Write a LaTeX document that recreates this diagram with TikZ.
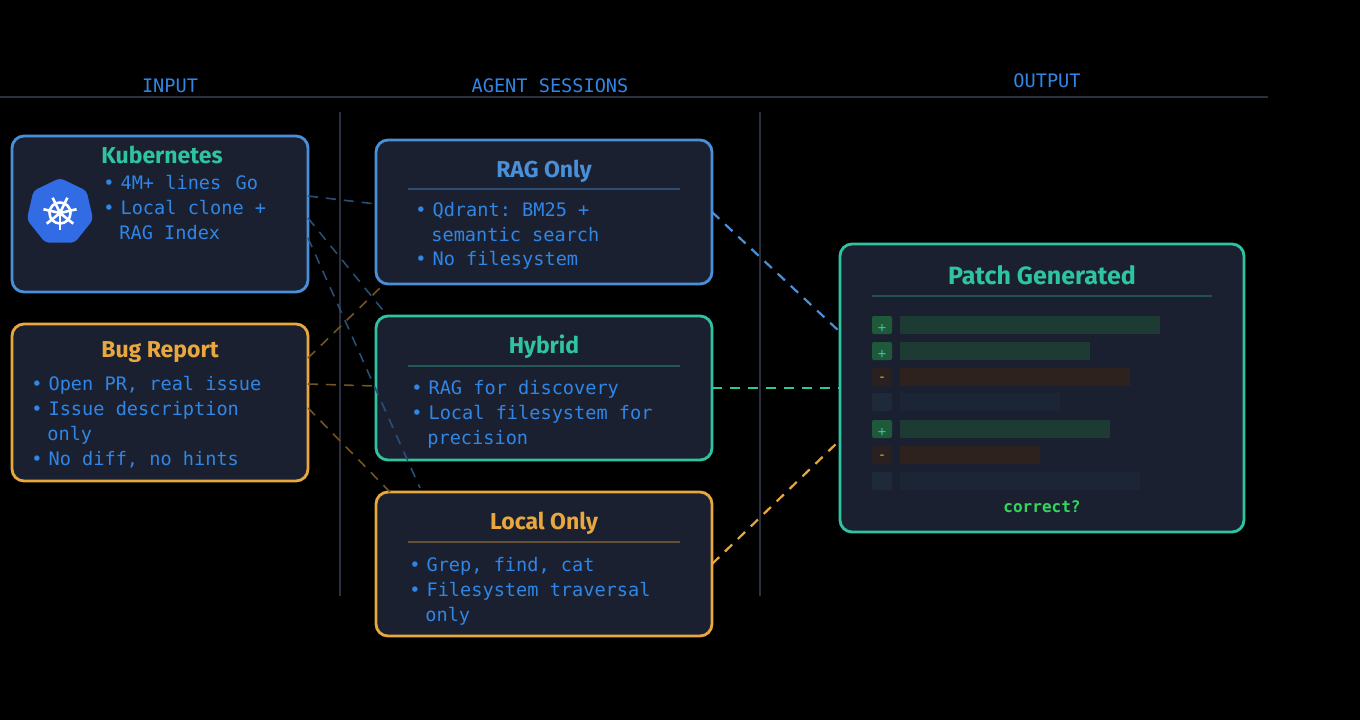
\documentclass[tikz,border=0pt]{standalone}
\usepackage{fontspec}
\setmainfont{Fira Sans}
\setmonofont{DejaVu Sans Mono}
\usetikzlibrary{shapes.geometric}
\definecolor{bg}{HTML}{000000}
\definecolor{panel}{HTML}{1B2030}
\definecolor{cblue}{HTML}{4A90D9}
\definecolor{cteal}{HTML}{2EC4A0}
\definecolor{corange}{HTML}{E8A83E}
\definecolor{ctext}{HTML}{2F86E6}
\definecolor{grid}{HTML}{2A3040}
\definecolor{kblue}{HTML}{326CE5}
\definecolor{gsq}{HTML}{1E5A3A}\definecolor{gbar}{HTML}{1D3B32}
\definecolor{osq}{HTML}{2A2020}\definecolor{obar}{HTML}{2D221E}
\definecolor{nsq}{HTML}{1E2A3A}\definecolor{nbar}{HTML}{1C2535}
\begin{document}
\begin{tikzpicture}[x=0.5pt,y=-0.5pt,
 box/.style={draw=#1,line width=1.4pt,fill=panel,rounded corners=6pt},
 ttl/.style={font=\bfseries\fontsize{11.5}{13}\selectfont,text=#1},
 bl/.style={font=\ttfamily\fontsize{9.3}{12.5}\selectfont,text=ctext,anchor=west,inner sep=0},
 hdr/.style={font=\ttfamily\fontsize{9.3}{11}\selectfont,text=ctext},
 dv/.style={line width=0.7pt,draw=#1},
 cn/.style={dashed,line width=0.8pt,draw=#1,dash pattern=on 5pt off 4pt}]
\fill[bg] (0,0) rectangle (1360,720);
\useasboundingbox (0,0) rectangle (1360,720);
% headers and grid
\draw[grid,line width=0.8pt] (0,97) -- (1268,97);
\draw[grid,line width=0.8pt] (340,112) -- (340,596);
\draw[grid,line width=0.8pt] (760,112) -- (760,596);
\node[hdr] (h1) at (170,86) {INPUT};
\node[hdr] (h2) at (550,86) {AGENT SESSIONS};
\node[hdr] (h3) at (1047,81) {OUTPUT};
% boxes
\draw[box=cblue] (12,136) rectangle (308,292);
\draw[box=corange] (12,324) rectangle (308,481);
\draw[box=cblue] (376,140) rectangle (712,284);
\draw[box=cteal] (376,316) rectangle (712,460);
\draw[box=corange] (376,492) rectangle (712,636);
\draw[box=cteal] (840,244) rectangle (1244,532);
% Kubernetes
\node[ttl=cteal] (kt) at (162,155) {Kubernetes};
\node[regular polygon,regular polygon sides=7,fill=kblue,minimum size=34pt,inner sep=0,rounded corners=2pt] (kicon) at (60,212) {};
\begin{scope}[shift={(60,213)},white,line width=1.3pt]
\draw (0,0) circle (10.5);
\fill (0,0) circle (3);
\foreach \a in {90,141.4,192.8,244.3,295.7,347.1,38.6} \draw (0,0) -- ++(\a:17);
\end{scope}
\foreach \y/\t in {183/4M+ lines\, Go,208/Local clone +} {\node[bl] at (103,\y) {\textbullet\hspace{3pt}\t};}
\node[bl] at (119,233) {RAG Index};
% Bug report
\node[ttl=corange] (bt) at (160,352) {Bug Report};
\node[bl] at (31,385) {\textbullet\hspace{3pt}Open PR, real issue};
\node[bl] at (31,410) {\textbullet\hspace{3pt}Issue description};
\node[bl] at (47,435) {only};
\node[bl] at (31,460) {\textbullet\hspace{3pt}No diff, no hints};
% RAG only
\node[ttl=cblue] (rt) at (544,171) {RAG Only};
\draw[dv={cblue!40!panel}] (408,189) -- (680,189);
\node[bl] at (415,211) {\textbullet\hspace{3pt}Qdrant: BM25 +};
\node[bl] at (431,235) {semantic search};
\node[bl] at (415,260) {\textbullet\hspace{3pt}No filesystem};
% Hybrid
\node[ttl=cteal] (ht) at (544,347) {Hybrid};
\draw[dv={cteal!35!panel}] (408,366) -- (680,366);
\node[bl] at (411,389) {\textbullet\hspace{3pt}RAG for discovery};
\node[bl] at (411,414) {\textbullet\hspace{3pt}Local filesystem for};
\node[bl] at (427,439) {precision};
% Local only
\node[ttl=corange] (lt) at (544,523) {Local Only};
\draw[dv={corange!35!panel}] (408,542) -- (680,542);
\node[bl] at (409,566) {\textbullet\hspace{3pt}Grep, find, cat};
\node[bl] at (409,591) {\textbullet\hspace{3pt}Filesystem traversal};
\node[bl] at (425,616) {only};
% Patch
\node[ttl=cteal,font=\bfseries\fontsize{12.5}{14}\selectfont] (pt) at (1042,275) {Patch Generated};
\draw[dv={cteal!30!panel}] (872,296) -- (1212,296);
\foreach \y/\e/\k/\s in {325/1160/g/+,351/1090/g/+,377/1130/o/-,402/1060/n/,429/1110/g/+,455/1040/o/-,481/1140/n/} {
  \fill[\k sq,rounded corners=1pt] (872,\y-9) rectangle (892,\y+9);
  \fill[\k bar] (900,\y-9) rectangle (\e,\y+9);
}
\foreach \y in {325,351,429} \node[font=\ttfamily\fontsize{7}{8}\selectfont,text=cteal,inner sep=0] at (882,\y+3) {+};
\foreach \y in {377,455} \node[font=\ttfamily\fontsize{7}{8}\selectfont,text=corange,inner sep=0] at (882,\y+2) {-};
\node[font=\ttfamily\bfseries\fontsize{8}{9}\selectfont,text=green!60!teal!80!white] (ct) at (1042,507) {correct?};
% connector endpoints
\coordinate (k1) at (308,196); \coordinate (k2) at (308,218); \coordinate (k3) at (308,238);
\coordinate (r1) at (376,204); \coordinate (hy1) at (386,314); \coordinate (lo1) at (420,488);
\coordinate (b1) at (308,358); \coordinate (b2) at (308,384); \coordinate (b3) at (308,408);
\coordinate (r2) at (384,284); \coordinate (hy2) at (376,386); \coordinate (lo2) at (390,492);
\coordinate (ro) at (712,212); \coordinate (ho) at (712,388); \coordinate (lo) at (712,564);
\coordinate (p1) at (840,332); \coordinate (p2) at (840,388); \coordinate (p3) at (840,440);
\draw[cn={cblue!55!black}] (k1) -- (r1);
\draw[cn={cblue!55!black}] (k2) -- (hy1);
\draw[cn={cblue!55!black}] (k3) -- (lo1);
\draw[cn={corange!50!black}] (b1) -- (r2);
\draw[cn={corange!50!black}] (b2) -- (hy2);
\draw[cn={corange!50!black}] (b3) -- (lo2);
\draw[cn=cblue,line width=1.1pt] (ro) -- (p1);
\draw[cn=cteal,line width=1.1pt] (ho) -- (p2);
\draw[cn=corange,line width=1.1pt] (lo) -- (p3);
\end{tikzpicture}
\end{document}
